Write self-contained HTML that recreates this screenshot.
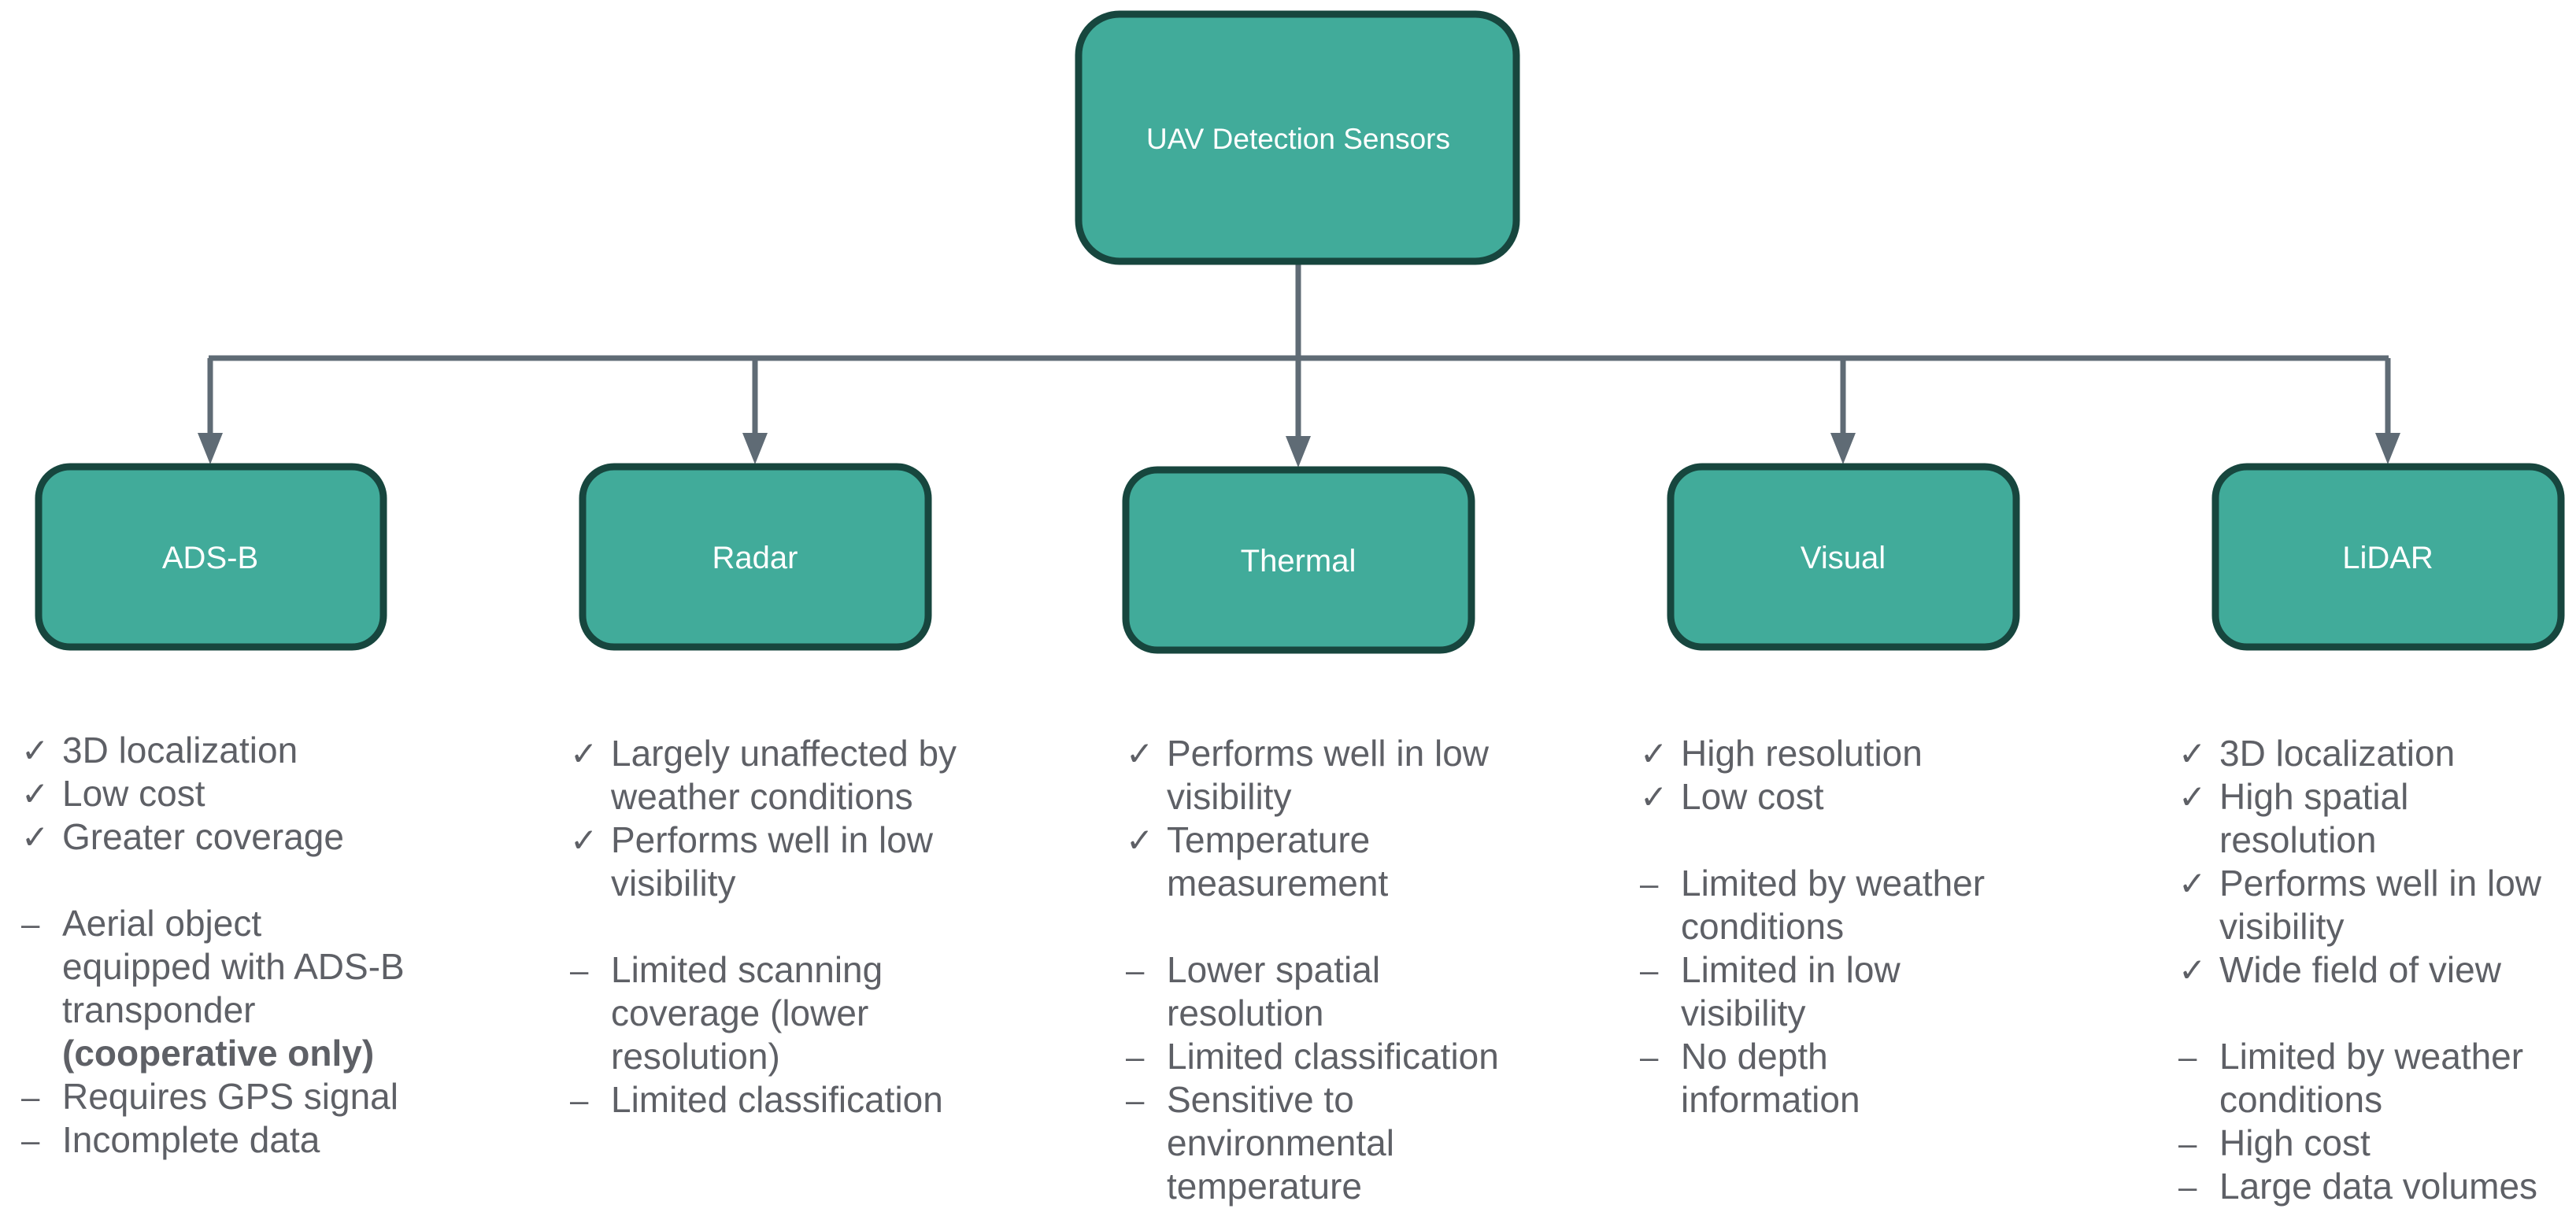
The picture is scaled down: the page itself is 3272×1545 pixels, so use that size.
<!DOCTYPE html>
<html><head><meta charset="utf-8"><style>
html,body{margin:0;padding:0;background:#fff;}
#c{position:relative;width:3272px;height:1545px;overflow:hidden;font-family:"Liberation Sans",Arial,sans-serif;}
.col{position:absolute;top:926px;font-size:46px;line-height:55px;color:#5e6066;}
.l{position:relative;padding-left:52px;height:55px;white-space:nowrap;}
.l span.m{position:absolute;left:0;top:0;font-size:42px;}
.b{height:55px;}
</style></head><body><div id="c">
<svg width="3272" height="1545" style="position:absolute;left:0;top:0">
<g fill="none" stroke="#5f6b75" stroke-width="7">
<line x1="1649" y1="334" x2="1649" y2="455"/>
<line x1="265" y1="455" x2="3034" y2="455"/>
<line x1="267" y1="455" x2="267" y2="560"/>
<line x1="959" y1="455" x2="959" y2="560"/>
<line x1="1649" y1="455" x2="1649" y2="564"/>
<line x1="2341" y1="455" x2="2341" y2="560"/>
<line x1="3033" y1="455" x2="3033" y2="560"/>
</g>
<g fill="#5f6b75">
<polygon points="251,550 283,550 267,590"/>
<polygon points="943,550 975,550 959,590"/>
<polygon points="1633,554 1665,554 1649,594"/>
<polygon points="2325,550 2357,550 2341,590"/>
<polygon points="3017,550 3049,550 3033,590"/>
</g>
<g fill="#41ab9a" stroke="#17463e" stroke-width="9">
<rect x="1370" y="18" width="556" height="314" rx="52"/>
<rect x="49" y="593" width="438" height="229" rx="40"/>
<rect x="740" y="593" width="439" height="229" rx="40"/>
<rect x="1430" y="597" width="439" height="229" rx="40"/>
<rect x="2122" y="593" width="439" height="229" rx="40"/>
<rect x="2814" y="593" width="439" height="229" rx="40"/>
</g>
<g fill="#fff" font-family="Liberation Sans, Arial, sans-serif" font-size="40" text-anchor="middle">
<text x="1649" y="189" font-size="37">UAV Detection Sensors</text>
<text x="267" y="722">ADS-B</text>
<text x="959" y="722">Radar</text>
<text x="1649" y="726">Thermal</text>
<text x="2341" y="722">Visual</text>
<text x="3033" y="722">LiDAR</text>
</g>
</svg>

<div class="col" style="left:27px">
<div class="l"><span class="m">✓</span>3D localization</div>
<div class="l"><span class="m">✓</span>Low cost</div>
<div class="l"><span class="m">✓</span>Greater coverage</div>
<div class="b"></div>
<div class="l"><span class="m">–</span>Aerial object</div>
<div class="l">equipped with ADS-B</div>
<div class="l">transponder</div>
<div class="l"><b>(cooperative only)</b></div>
<div class="l"><span class="m">–</span>Requires GPS signal</div>
<div class="l"><span class="m">–</span>Incomplete data</div>
</div>

<div class="col" style="left:724px;top:930px">
<div class="l"><span class="m">✓</span>Largely unaffected by</div>
<div class="l">weather conditions</div>
<div class="l"><span class="m">✓</span>Performs well in low</div>
<div class="l">visibility</div>
<div class="b"></div>
<div class="l"><span class="m">–</span>Limited scanning</div>
<div class="l">coverage (lower</div>
<div class="l">resolution)</div>
<div class="l"><span class="m">–</span>Limited classification</div>
</div>

<div class="col" style="left:1430px;top:930px">
<div class="l"><span class="m">✓</span>Performs well in low</div>
<div class="l">visibility</div>
<div class="l"><span class="m">✓</span>Temperature</div>
<div class="l">measurement</div>
<div class="b"></div>
<div class="l"><span class="m">–</span>Lower spatial</div>
<div class="l">resolution</div>
<div class="l"><span class="m">–</span>Limited classification</div>
<div class="l"><span class="m">–</span>Sensitive to</div>
<div class="l">environmental</div>
<div class="l">temperature</div>
</div>

<div class="col" style="left:2083px;top:930px">
<div class="l"><span class="m">✓</span>High resolution</div>
<div class="l"><span class="m">✓</span>Low cost</div>
<div class="b"></div>
<div class="l"><span class="m">–</span>Limited by weather</div>
<div class="l">conditions</div>
<div class="l"><span class="m">–</span>Limited in low</div>
<div class="l">visibility</div>
<div class="l"><span class="m">–</span>No depth</div>
<div class="l">information</div>
</div>

<div class="col" style="left:2767px;top:930px">
<div class="l"><span class="m">✓</span>3D localization</div>
<div class="l"><span class="m">✓</span>High spatial</div>
<div class="l">resolution</div>
<div class="l"><span class="m">✓</span>Performs well in low</div>
<div class="l">visibility</div>
<div class="l"><span class="m">✓</span>Wide field of view</div>
<div class="b"></div>
<div class="l"><span class="m">–</span>Limited by weather</div>
<div class="l">conditions</div>
<div class="l"><span class="m">–</span>High cost</div>
<div class="l"><span class="m">–</span>Large data volumes</div>
</div>
</div></body></html>
